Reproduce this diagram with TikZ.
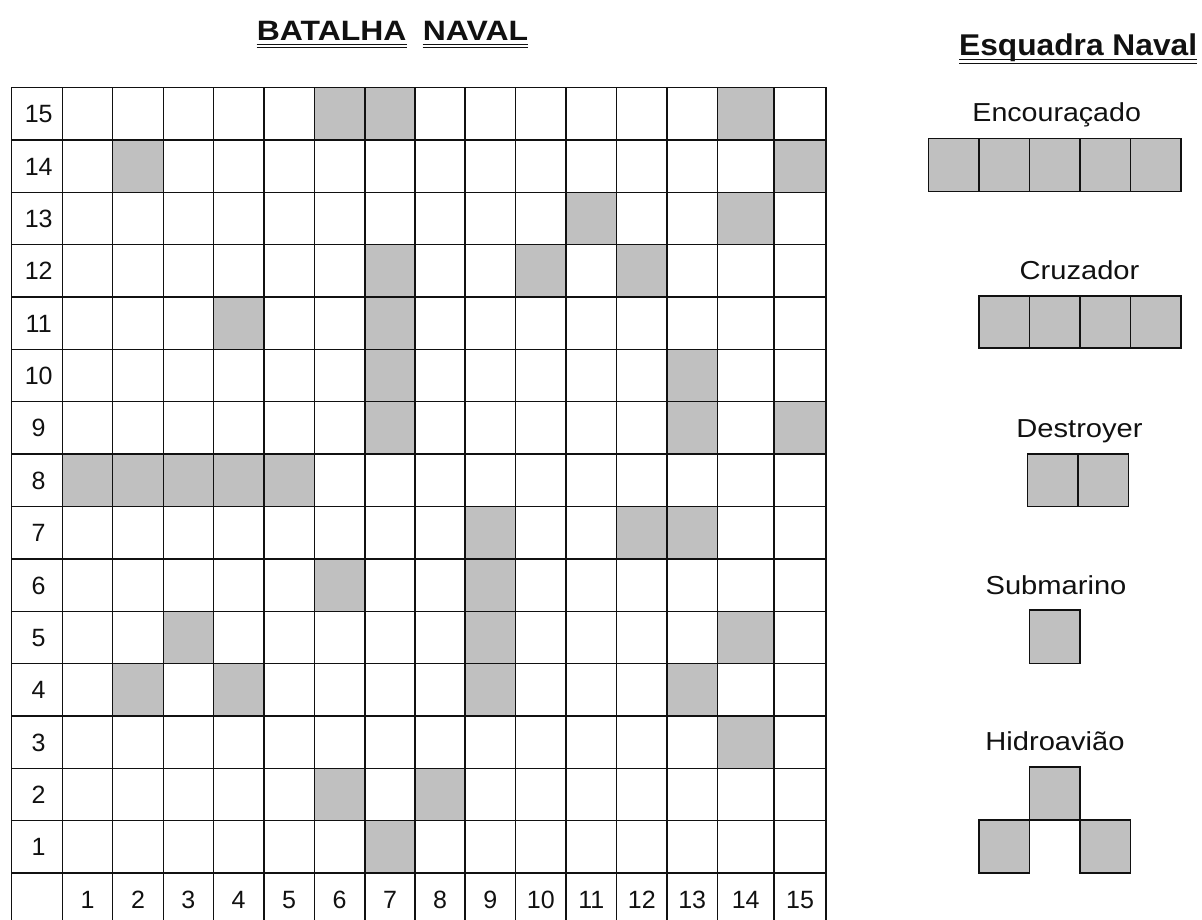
\documentclass[tikz,border=0pt]{standalone}
\usepackage{fontspec}
\setmainfont{Liberation Sans}
\definecolor{shipgray}{HTML}{C0C0C0}
\definecolor{ink}{HTML}{111111}
\def\colx{{11.7,62.3,112.7,163.3,213.3,264,314.3,365,415,465,515.7,566,616.7,667,717.3,774,826}}
\newcommand\gridcell[2]{%
  \pgfmathsetmacro\xa{\colx[#1]}%
  \pgfmathsetmacro\xb{\colx[#1+1]}%
  \pgfmathsetmacro\ya{87.5+52.37*(15-#2)}%
  \fill[shipgray] (\xa,\ya) rectangle (\xb,\ya+52.37);}
\begin{document}
\begin{tikzpicture}[x=1pt,y=-1pt,
  gridline/.style={draw=ink,line width=1.4pt},
  shipbox/.style={fill=shipgray,draw=ink,line width=1.4pt},
  lbl/.style={inner sep=0pt,anchor=base,font=\fontsize{25}{28}\selectfont,text=ink},
  shipname/.style={inner sep=0pt,anchor=base,font=\fontsize{26}{30}\selectfont,text=ink},
  ttl/.style={inner sep=0pt,anchor=base west,font=\fontsize{28}{32}\selectfont\bfseries,text=ink},
  uline/.style={draw=ink,line width=1.3pt}]
\useasboundingbox (0,0) rectangle (1202,920);
\fill[white] (0,0) rectangle (1202,920);
\begin{scope}
\clip (0,0) rectangle (1202,920);
% shaded cells
\foreach \c/\r in {6/15,7/15,14/15,2/14,15/14,11/13,14/13,7/12,10/12,12/12,4/11,7/11,7/10,13/10,7/9,13/9,15/9,1/8,2/8,3/8,4/8,5/8,9/7,12/7,13/7,6/6,9/6,3/5,9/5,14/5,2/4,4/4,9/4,13/4,14/3,6/2,8/2,7/1}
  {\gridcell{\c}{\r}}
% grid lines
\foreach \i in {0,...,16}{
  \pgfmathsetmacro\xx{\colx[\i]}
  \draw[gridline] (\xx,87.5) -- (\xx,925.4);
}
\foreach \i in {0,...,16}{
  \pgfmathsetmacro\yy{87.5+52.37*\i}
  \draw[gridline] (11.7,\yy) -- (826,\yy);
}
\end{scope}
% row labels
\foreach \r in {1,...,15}{
  \pgfmathsetmacro\yy{87.5+52.37*(15-\r)+26.2+9}
  \node[lbl] (row\r) at (38.7,\yy) {\r};
}
% column labels
\foreach \c in {1,...,15}{
  \pgfmathsetmacro\xa{\colx[\c]}
  \pgfmathsetmacro\xb{\colx[\c+1]}
  \pgfmathsetmacro\xm{(\xa+\xb)/2}
  \node[lbl] (col\c) at (\xm,908.2) {\c};
}
% titles
\node[ttl] (t1) at (256.7,41) {\scalebox{1.14}[1]{BATALHA}};
\node[ttl] (t2) at (422.7,41) {\scalebox{1.14}[1]{NAVAL}};
\foreach \t in {t1,t2}{
  \draw[uline] ([yshift=-3.3pt]\t.base west) -- ([yshift=-3.3pt]\t.base east);
  \draw[uline] ([yshift=-6.7pt]\t.base west) -- ([yshift=-6.7pt]\t.base east);
}
\node[ttl,font=\fontsize{30}{34}\selectfont\bfseries] (t3) at (959,56) {\scalebox{1.057}[1]{Esquadra Naval}};
\draw[uline] ([yshift=-3.8pt]t3.base west) -- ([yshift=-3.8pt]t3.base east);
\draw[uline] ([yshift=-7.2pt]t3.base west) -- ([yshift=-7.2pt]t3.base east);
% fleet
\node[shipname] (enc) at (1056.7,121.7) {\scalebox{1.1}[1]{Encouraçado}};
\foreach \a/\b in {928.3/979,979/1029.3,1029.3/1080,1080/1130.7,1130.7/1181}
  \draw[shipbox] (\a,138.8) rectangle (\b,191.7);
\node[shipname] (cru) at (1079.5,279.3) {\scalebox{1.12}[1]{Cruzador}};
\foreach \a/\b in {979/1029.3,1029.3/1080,1080/1130.7,1130.7/1181}
  \draw[shipbox] (\a,296) rectangle (\b,348);
\node[shipname] (des) at (1079.5,437.3) {\scalebox{1.12}[1]{Destroyer}};
\foreach \a/\b in {1027.3/1078,1078/1128.7}
  \draw[shipbox] (\a,454) rectangle (\b,506.7);
\node[shipname] (sub) at (1056,594) {\scalebox{1.12}[1]{Submarino}};
\draw[shipbox] (1029.3,610) rectangle (1080,663.3);
\node[shipname] (hid) at (1055,750) {\scalebox{1.12}[1]{Hidroavião}};
\draw[shipbox] (1029.3,767) rectangle (1080,820);
\draw[shipbox] (979,820) rectangle (1029.3,873);
\draw[shipbox] (1080,820) rectangle (1130.7,873);
\end{tikzpicture}
\end{document}
